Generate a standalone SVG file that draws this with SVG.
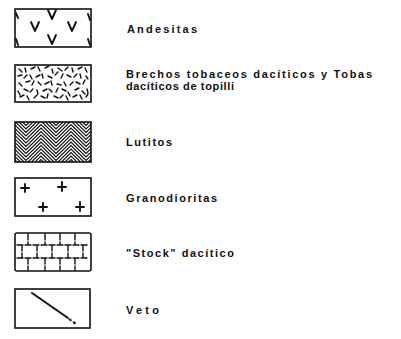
<svg xmlns="http://www.w3.org/2000/svg" width="401" height="339" viewBox="0 0 401 339">
<style>
.box{fill:none;stroke:#111;stroke-width:1.6}
.mk{fill:none;stroke:#111;stroke-width:1.9;stroke-linecap:round;stroke-linejoin:round}
.dash{fill:none;stroke:#111;stroke-width:1.4;stroke-linecap:round}
.zz{fill:none;stroke:#111;stroke-width:1.2}
.lbl{font-family:"Liberation Sans",Arial,sans-serif;font-size:11px;font-weight:bold;fill:#111}
</style>
<defs>
<clipPath id="c3"><rect x="15" y="122" width="76" height="40"/></clipPath>
<path id="zig" class="zz" d="M-4,0 L11,-15 L26,0 L41,-15 L56,0 L71,-15 L86,0 L101,-15"/>
</defs>
<rect width="401" height="339" fill="#fff"/>

<g id="andesitas">
<rect class="box" x="15" y="9" width="76" height="38"/>
<path class="mk" d="M48,10 L52,19 L56,10 M31,22 L35,31 L39,22 M68,22 L72,31 L76,22 M48,35 L52,44 L56,35 M16,13 L18,18 M16,39 L18,45 M88,14 L90,20 M88,39 L90,45"/>
<text class="lbl" x="127" y="33" textLength="70" lengthAdjust="spacing">Andesitas</text>
</g>

<g id="brechas">
<rect class="box" x="15" y="65" width="76" height="37"/>
<path class="dash" d="M19,69l3,3 M25,68l1,4 M31,69l4,-2 M38,67l2,4 M45,68l4,-2 M52,69l1,4 M58,68l4,3 M65,70l3,-3 M72,68l1,4 M78,69l4,-2 M85,68l2,4
M18,76l4,-1 M24,78l3,-3 M30,75l2,4 M36,77l4,-2 M42,74l1,4 M48,76l4,2 M55,75l3,-3 M61,78l2,-4 M67,75l4,2 M74,77l3,-3 M80,74l1,4 M86,76l2,3
M19,83l3,3 M26,82l4,-1 M32,85l2,-4 M38,82l3,3 M45,84l4,-2 M51,81l1,4 M57,84l4,1 M64,82l2,4 M70,85l3,-3 M76,82l4,2 M83,84l2,-4
M18,91l2,4 M24,89l4,2 M30,92l3,-3 M37,90l1,4 M43,91l4,-2 M49,89l3,3 M56,92l2,-4 M62,89l4,2 M68,92l2,4 M75,90l4,-2 M82,91l3,3 M87,89l1,4
M20,97l4,-2 M27,96l2,4 M34,98l3,-3 M41,96l4,2 M47,98l1,-4 M54,96l4,2 M60,98l3,-3 M66,96l2,4 M73,97l4,-2 M80,95l2,4 M86,97l2,-3"/>
<text class="lbl" x="126" y="78" textLength="246" lengthAdjust="spacing">Brechos tobaceos dacíticos y Tobas</text>
<text class="lbl" x="126" y="90" textLength="108" lengthAdjust="spacing">dacíticos de topilli</text>
</g>

<g id="lutitas">
<g clip-path="url(#c3)">
<use href="#zig" x="0" y="122"/><use href="#zig" x="0" y="125.5"/><use href="#zig" x="0" y="129"/><use href="#zig" x="0" y="132.5"/>
<use href="#zig" x="0" y="136"/><use href="#zig" x="0" y="139.5"/><use href="#zig" x="0" y="143"/><use href="#zig" x="0" y="146.5"/>
<use href="#zig" x="0" y="150"/><use href="#zig" x="0" y="153.5"/><use href="#zig" x="0" y="157"/><use href="#zig" x="0" y="160.5"/>
<use href="#zig" x="0" y="164"/><use href="#zig" x="0" y="167.5"/><use href="#zig" x="0" y="171"/><use href="#zig" x="0" y="174.5"/>
<use href="#zig" x="0" y="178"/>
</g>
<rect class="box" x="15" y="122" width="76" height="40"/>
<text class="lbl" x="126" y="146" textLength="46" lengthAdjust="spacing">Lutitos</text>
</g>

<g id="granodioritas">
<rect class="box" x="15" y="178" width="76" height="38"/>
<path class="mk" d="M21,188h8 M25,184v8 M58,187h8 M62,182v9 M39,207h8 M43,203v8 M76,207h8 M80,202v9"/>
<text class="lbl" x="126" y="202" textLength="91" lengthAdjust="spacing">Granodioritas</text>
</g>

<g id="stock">
<rect class="box" x="15" y="233" width="76" height="38" rx="2"/>
<path class="dash" d="M17,245h72 M17,258h72 M28,234v11 M45,234v11 M60,234v11 M75,234v11 M22,245v13 M37,245v13 M52,245v13 M68,245v13 M83,245v13 M28,258v12 M45,258v12 M60,258v12 M75,258v12" stroke-dasharray="6 2"/>
<text class="lbl" x="126" y="257" textLength="108" lengthAdjust="spacing">"Stock" dacítico</text>
</g>

<g id="veta">
<rect class="box" x="15" y="289" width="75" height="39"/>
<path d="M32,293 L68,318" stroke="#111" stroke-width="2" stroke-linecap="round"/>
<path d="M69,319 L76,324" stroke="#111" stroke-width="2" stroke-dasharray="3 2"/>
<text class="lbl" x="126" y="314" textLength="33" lengthAdjust="spacing">Veto</text>
</g>
</svg>
